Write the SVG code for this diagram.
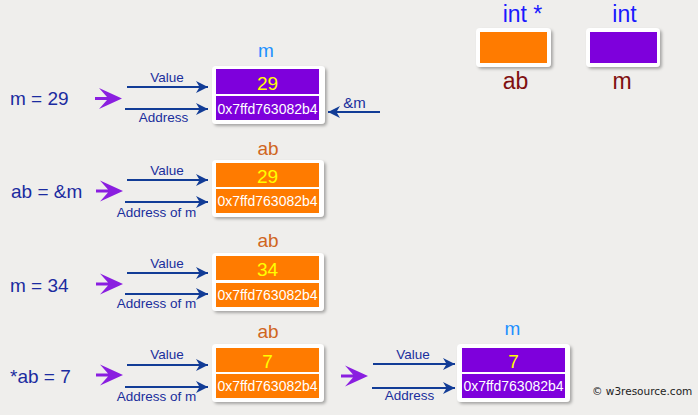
<svg xmlns="http://www.w3.org/2000/svg" width="698" height="415" viewBox="0 0 698 415">
<defs>
<filter id="sh" x="-10%" y="-10%" width="130%" height="140%">
<feDropShadow dx="2" dy="2" stdDeviation="1.6" flood-color="#000" flood-opacity="0.3"/>
</filter>
<marker id="ah" markerUnits="userSpaceOnUse" markerWidth="12" markerHeight="12" refX="10" refY="5" orient="auto" viewBox="0 0 10 10">
<path d="M0,0 L10,5 L0,10 L3,5 Z" fill="#123c96"/>
</marker>
<path id="pa" d="M-23,-10.5 L0,0 L-23,10.5 L-15,1.6 L-27,1.6 L-27,-1.6 L-15,-1.6 Z" fill="#8a1ee0"/>
</defs>
<style>
.bg{fill:#efeeec}
.lbl{font-family:"Liberation Sans",Arial,sans-serif;font-size:19px;fill:#1b2ba0}
.sm{font-family:"Liberation Sans",Arial,sans-serif;font-size:13.5px;fill:#1a2f9c;text-anchor:middle}
.outer{fill:#fff;filter:url(#sh)}
.or{fill:#ff7b00}
.pu{fill:#7e00dc}
.val{font-family:"Liberation Sans",Arial,sans-serif;font-size:19px;fill:#ffff00;text-anchor:middle}
.hex{font-family:"Liberation Sans",Arial,sans-serif;font-size:14px;fill:#fff;text-anchor:middle}
.nm{font-family:"Liberation Sans",Arial,sans-serif;font-size:19px;text-anchor:middle}
.mb{fill:#1e90ff}
.ob{fill:#d0661e}
.ln{stroke:#123c96;stroke-width:2;fill:none;marker-end:url(#ah)}
.lg{font-family:"Liberation Sans",Arial,sans-serif;font-size:23px;text-anchor:middle}
</style>
<rect class="bg" x="0" y="0" width="698" height="415"/>

<g id="legend">
<text class="lg" x="522.5" y="22" fill="#1a1aff">int *</text>
<text class="lg" x="624.5" y="22" fill="#1a1aff">int</text>
<rect class="outer" x="476" y="28" width="75" height="39" rx="4"/>
<rect class="or" x="480" y="32" width="67" height="31"/>
<rect class="outer" x="586" y="28" width="74" height="39" rx="4"/>
<rect class="pu" x="590" y="32" width="67" height="31"/>
<text class="lg" x="515.5" y="89" fill="#801010">ab</text>
<text class="lg" x="622" y="89" fill="#801010">m</text>
</g>

<g id="row1-label"><text class="lbl" x="10" y="105">m = 29</text></g>
<g id="row2-label"><text class="lbl" x="11" y="198">ab = &amp;m</text></g>
<g id="row3-label"><text class="lbl" x="10" y="292">m = 34</text></g>
<g id="row4-label"><text class="lbl" x="10" y="383">*ab = 7</text></g>

<g id="row1-m">
<text class="nm mb" x="266" y="57">m</text>
<rect class="outer" x="212" y="66" width="113" height="58" rx="4"/>
<rect class="pu" x="216" y="69" width="103" height="25"/>
<rect class="pu" x="216" y="96" width="103" height="24"/>
<text class="val" x="267.5" y="89.5">29</text>
<text class="hex" x="267.5" y="114">0x7ffd763082b4</text>
</g>

<g id="row2-ab">
<text class="nm ob" x="268" y="155">ab</text>
<rect class="outer" x="212" y="160" width="112" height="57" rx="4"/>
<rect class="or" x="216" y="163" width="103" height="24"/>
<rect class="or" x="216" y="189" width="103" height="24"/>
<text class="val" x="267.5" y="183">29</text>
<text class="hex" x="267.5" y="206">0x7ffd763082b4</text>
</g>

<g id="row3-ab">
<text class="nm ob" x="268" y="247">ab</text>
<rect class="outer" x="212" y="253" width="112" height="58" rx="4"/>
<rect class="or" x="216" y="256" width="103" height="24"/>
<rect class="or" x="216" y="283" width="103" height="24"/>
<text class="val" x="267.5" y="276">34</text>
<text class="hex" x="267.5" y="300">0x7ffd763082b4</text>
</g>

<g id="row4-ab">
<text class="nm ob" x="268" y="338">ab</text>
<rect class="outer" x="212" y="344" width="112" height="58" rx="4"/>
<rect class="or" x="216" y="348" width="103" height="24"/>
<rect class="or" x="216" y="374" width="103" height="24"/>
<text class="val" x="267.5" y="368">7</text>
<text class="hex" x="267.5" y="391">0x7ffd763082b4</text>
</g>

<g id="row4-m">
<text class="nm mb" x="512.5" y="335">m</text>
<rect class="outer" x="457" y="344" width="113" height="58" rx="4"/>
<rect class="pu" x="462" y="348" width="103" height="24"/>
<rect class="pu" x="462" y="374" width="103" height="24"/>
<text class="val" x="513.5" y="368">7</text>
<text class="hex" x="513.5" y="391">0x7ffd763082b4</text>
</g>

<g id="connectors">
<use href="#pa" x="122" y="98.5"/>
<use href="#pa" x="123" y="191"/>
<use href="#pa" x="123" y="284"/>
<use href="#pa" x="123" y="375"/>
<use href="#pa" x="368" y="376"/>

<line class="ln" x1="127" y1="87" x2="208" y2="87"/>
<line class="ln" x1="125" y1="109" x2="208" y2="109"/>
<line class="ln" x1="380" y1="112" x2="328" y2="112"/>
<line class="ln" x1="127" y1="180" x2="208" y2="180"/>
<line class="ln" x1="125" y1="202" x2="208" y2="202"/>
<line class="ln" x1="127" y1="273" x2="208" y2="273"/>
<line class="ln" x1="125" y1="294" x2="208" y2="294"/>
<line class="ln" x1="127" y1="365" x2="208" y2="365"/>
<line class="ln" x1="125" y1="387" x2="208" y2="387"/>
<line class="ln" x1="373" y1="364" x2="455" y2="364"/>
<line class="ln" x1="372" y1="388" x2="455" y2="388"/>

<text class="sm" x="167" y="82">Value</text>
<text class="sm" x="163.5" y="122">Address</text>
<text class="sm" x="354.5" y="108" style="font-size:15px">&amp;m</text>
<text class="sm" x="167" y="175">Value</text>
<text class="sm" x="156.5" y="217">Address of m</text>
<text class="sm" x="167" y="268">Value</text>
<text class="sm" x="156.5" y="308">Address of m</text>
<text class="sm" x="167" y="359">Value</text>
<text class="sm" x="156.5" y="401">Address of m</text>
<text class="sm" x="413" y="359">Value</text>
<text class="sm" x="409.5" y="400">Address</text>
</g>

<text x="592" y="395" font-family="'DejaVu Sans',sans-serif" font-size="10.5" fill="#222">© w3resource.com</text>
</svg>
